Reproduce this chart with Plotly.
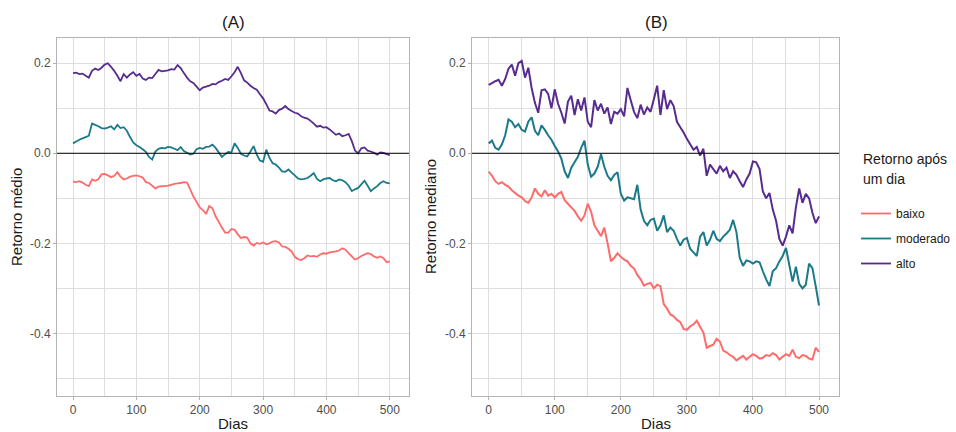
import plotly.graph_objects as go

# eixo comum: dias de 5 em 5
dias = list(range(0, 505, 5))

# ---- Painel (A): retorno médio ----
a_alto = [0.178, 0.179, 0.176, 0.177, 0.172, 0.168, 0.183, 0.188, 0.185, 0.190,
          0.197, 0.200, 0.192, 0.183, 0.172, 0.160, 0.176, 0.168, 0.175, 0.180,
          0.172, 0.176, 0.166, 0.163, 0.168, 0.167, 0.176, 0.185, 0.182, 0.183,
          0.184, 0.187, 0.186, 0.196, 0.189, 0.178, 0.168, 0.160, 0.156, 0.148,
          0.140, 0.146, 0.148, 0.150, 0.154, 0.153, 0.158, 0.161, 0.165, 0.163,
          0.171, 0.180, 0.192, 0.178, 0.162, 0.157, 0.150, 0.145, 0.141, 0.131,
          0.122, 0.109, 0.095, 0.093, 0.088, 0.096, 0.099, 0.105, 0.098, 0.094,
          0.090, 0.088, 0.082, 0.079, 0.077, 0.072, 0.066, 0.059, 0.061, 0.057,
          0.058, 0.053, 0.047, 0.041, 0.044, 0.038, 0.040, 0.043, 0.027, 0.006,
          0.000, 0.011, 0.013, 0.006, 0.004, 0.001, -0.003, 0.002, 0.001, -0.002,
          -0.004]

a_moderado = [0.022, 0.026, 0.030, 0.033, 0.036, 0.039, 0.066, 0.063, 0.060, 0.056,
              0.055, 0.057, 0.060, 0.053, 0.063, 0.056, 0.058, 0.050, 0.036, 0.024,
              0.018, 0.014, 0.009, 0.003, -0.008, -0.014, 0.004, 0.010, 0.012, 0.011,
              0.014, 0.013, 0.010, 0.007, 0.014, 0.005, 0.001, -0.003, -0.001, 0.009,
              0.012, 0.010, 0.014, 0.015, 0.019, 0.012, 0.002, -0.008, -0.002, 0.003,
              0.002, 0.022, 0.012, -0.001, -0.005, -0.007, 0.004, 0.016, -0.003, -0.016,
              -0.019, 0.008, -0.010, -0.022, -0.025, -0.032, -0.040, -0.041, -0.036, -0.043,
              -0.049, -0.056, -0.058, -0.057, -0.055, -0.050, -0.044, -0.057, -0.062, -0.058,
              -0.056, -0.055, -0.060, -0.062, -0.058, -0.060, -0.064, -0.072, -0.084, -0.080,
              -0.077, -0.069, -0.061, -0.072, -0.084, -0.078, -0.073, -0.066, -0.062, -0.066,
              -0.067]

a_baixo = [-0.063, -0.064, -0.062, -0.065, -0.070, -0.073, -0.058, -0.061, -0.058, -0.047,
           -0.046, -0.049, -0.053, -0.050, -0.042, -0.052, -0.058, -0.056, -0.052, -0.050,
           -0.049, -0.051, -0.054, -0.064, -0.066, -0.072, -0.078, -0.074, -0.073, -0.073,
           -0.072, -0.070, -0.068, -0.067, -0.066, -0.064, -0.065, -0.080, -0.096, -0.108,
           -0.120, -0.126, -0.135, -0.117, -0.122, -0.140, -0.152, -0.165, -0.176, -0.176,
           -0.168, -0.170, -0.180, -0.188, -0.186, -0.187, -0.200, -0.205, -0.199, -0.201,
           -0.198, -0.202, -0.200, -0.196, -0.195, -0.198, -0.207, -0.208, -0.212, -0.218,
           -0.230, -0.235, -0.237, -0.233, -0.227, -0.229, -0.228, -0.230, -0.225, -0.222,
           -0.223, -0.220, -0.219, -0.218, -0.216, -0.211, -0.214, -0.222, -0.229, -0.236,
           -0.233, -0.228, -0.225, -0.222, -0.224, -0.229, -0.232, -0.229, -0.233, -0.242,
           -0.240]

# ---- Painel (B): retorno mediano ----
b_alto = [0.152, 0.156, 0.160, 0.163, 0.150, 0.165, 0.188, 0.197, 0.172, 0.200,
          0.205, 0.168, 0.190, 0.145, 0.112, 0.090, 0.140, 0.142, 0.132, 0.100,
          0.142, 0.110, 0.090, 0.066, 0.115, 0.128, 0.085, 0.120, 0.095, 0.124,
          0.070, 0.058, 0.118, 0.095, 0.110, 0.088, 0.102, 0.065, 0.092, 0.088,
          0.098, 0.082, 0.145, 0.118, 0.092, 0.078, 0.108, 0.086, 0.102, 0.092,
          0.120, 0.150, 0.085, 0.140, 0.098, 0.118, 0.105, 0.070, 0.058, 0.046,
          0.032, 0.020, 0.008, 0.014, -0.005, 0.010, -0.050, -0.025, -0.035, -0.045,
          -0.028, -0.040, -0.032, -0.055, -0.040, -0.048, -0.062, -0.075, -0.058, -0.045,
          -0.018, -0.020, -0.035, -0.085, -0.100, -0.088, -0.125, -0.150, -0.190, -0.205,
          -0.185, -0.160, -0.178, -0.120, -0.078, -0.110, -0.090, -0.100, -0.132, -0.155,
          -0.140]

b_moderado = [0.022, 0.028, 0.012, 0.008, 0.020, 0.040, 0.075, 0.070, 0.058, 0.065,
              0.052, 0.048, 0.070, 0.080, 0.050, 0.040, 0.062, 0.052, 0.040, 0.030,
              0.016, 0.004, -0.012, -0.040, -0.055, -0.032, -0.020, -0.008, 0.012, 0.028,
              -0.025, -0.052, -0.045, -0.030, -0.002, -0.030, -0.050, -0.060, -0.048, -0.042,
              -0.090, -0.105, -0.098, -0.100, -0.102, -0.070, -0.125, -0.150, -0.160, -0.148,
              -0.145, -0.172, -0.160, -0.138, -0.175, -0.165, -0.172, -0.190, -0.205, -0.192,
              -0.188, -0.212, -0.220, -0.228, -0.185, -0.175, -0.205, -0.192, -0.172, -0.190,
              -0.195, -0.185, -0.178, -0.170, -0.148, -0.175, -0.232, -0.250, -0.238, -0.240,
              -0.245, -0.240, -0.242, -0.262, -0.280, -0.295, -0.262, -0.255, -0.240, -0.228,
              -0.210, -0.248, -0.285, -0.252, -0.290, -0.300, -0.292, -0.245, -0.255, -0.295,
              -0.338]

b_baixo = [-0.041, -0.050, -0.062, -0.068, -0.064, -0.070, -0.074, -0.082, -0.088, -0.094,
           -0.098, -0.106, -0.110, -0.098, -0.078, -0.090, -0.096, -0.082, -0.094, -0.090,
           -0.098, -0.090, -0.086, -0.104, -0.112, -0.120, -0.128, -0.140, -0.150, -0.138,
           -0.112, -0.130, -0.160, -0.172, -0.184, -0.165, -0.200, -0.240, -0.232, -0.222,
           -0.230, -0.236, -0.240, -0.250, -0.256, -0.270, -0.280, -0.294, -0.290, -0.288,
           -0.300, -0.292, -0.295, -0.335, -0.345, -0.358, -0.362, -0.370, -0.375, -0.390,
           -0.392, -0.384, -0.380, -0.372, -0.385, -0.398, -0.432, -0.428, -0.425, -0.412,
           -0.418, -0.438, -0.442, -0.448, -0.452, -0.460, -0.455, -0.450, -0.458, -0.452,
           -0.446, -0.450, -0.456, -0.454, -0.448, -0.450, -0.444, -0.448, -0.458, -0.452,
           -0.446, -0.450, -0.436, -0.452, -0.455, -0.448, -0.450, -0.456, -0.458, -0.432,
           -0.441]

grupos = ["baixo", "moderado", "alto"]
cores = {"baixo": "#FF6B6B", "moderado": "#1A7A89", "alto": "#582C8E"}

painel_a = {"baixo": a_baixo, "moderado": a_moderado, "alto": a_alto}
painel_b = {"baixo": b_baixo, "moderado": b_moderado, "alto": b_alto}

W, H = 956, 432


def px(x):
    return x / W


def py(y):
    return 1 - y / H


fig = go.Figure()

for g in grupos:
    fig.add_trace(go.Scatter(x=dias, y=painel_a[g], mode="lines", name=g, legendgroup=g,
                             line=dict(color=cores[g], width=1.8, simplify=False),
                             xaxis="x", yaxis="y", showlegend=True))
for g in grupos:
    fig.add_trace(go.Scatter(x=dias, y=painel_b[g], mode="lines", name=g, legendgroup=g,
                             line=dict(color=cores[g], width=2.0, simplify=False),
                             xaxis="x2", yaxis="y2", showlegend=False))

grid = "#DEDEDE"
borda = "#B3B3B3"
fonte = "Liberation Sans, Arial, sans-serif"

eixo_x = dict(range=[-25.25, 530.25], tickvals=[0, 100, 200, 300, 400, 500],
              showgrid=True, gridcolor=grid, gridwidth=1,
              minor=dict(tickvals=[50, 150, 250, 350, 450], showgrid=True, gridcolor=grid,
                         gridwidth=0.6, ticks=""),
              showline=True, mirror=True, linecolor=borda, linewidth=1,
              ticks="outside", ticklen=3, tickcolor=borda, tickwidth=1,
              tickfont=dict(family=fonte, size=12, color="#4D4D4D"),
              zeroline=False, automargin=False, fixedrange=True)
eixo_y = dict(range=[-0.539, 0.256], tickvals=[-0.4, -0.2, 0.0, 0.2],
              ticktext=["-0.4", "-0.2", "0.0", "0.2"],
              showgrid=True, gridcolor=grid, gridwidth=1,
              minor=dict(tickvals=[-0.5, -0.3, -0.1, 0.1], showgrid=True, gridcolor=grid,
                         gridwidth=0.6, ticks=""),
              showline=True, mirror=True, linecolor=borda, linewidth=1,
              ticks="outside", ticklen=3, tickcolor=borda, tickwidth=1,
              tickfont=dict(family=fonte, size=12, color="#4D4D4D"),
              zeroline=False, automargin=False, fixedrange=True)

fig.update_layout(
    width=W, height=H,
    margin=dict(l=0, r=0, t=0, b=0),
    paper_bgcolor="white", plot_bgcolor="white",
    xaxis=dict(eixo_x, domain=[px(57), px(409)], anchor="y"),
    yaxis=dict(eixo_y, domain=[py(396), py(38)], anchor="x"),
    xaxis2=dict(eixo_x, domain=[px(472), px(839)], anchor="y2"),
    yaxis2=dict(eixo_y, domain=[py(396), py(38)], anchor="x2"),
    showlegend=True,
    legend=dict(x=px(856), y=py(199), xanchor="left", yanchor="top",
                font=dict(family=fonte, size=12, color="#1A1A1A"),
                tracegroupgap=6, itemwidth=30, bgcolor="rgba(0,0,0,0)"),
    font=dict(family=fonte),
)

# linha de referência em zero nos dois painéis
for xr, yr in (("x domain", "y"), ("x2 domain", "y2")):
    fig.add_shape(type="line", xref=xr, yref=yr, x0=0, x1=1, y0=0, y1=0,
                  line=dict(color="black", width=1), layer="above")

textos = [
    ("(A)", 233, 22, 0, 17, "center"),
    ("(B)", 656, 22, 0, 17, "center"),
    ("Dias", 233, 423, 0, 15, "center"),
    ("Dias", 656, 423, 0, 15, "center"),
    ("Retorno médio", 17, 217, -90, 15, "center"),
    ("Retorno mediano", 431, 217, -90, 15, "center"),
    ("Retorno após", 861, 159, 0, 14, "left"),
    ("um dia", 861, 179, 0, 14, "left"),
]
for txt, x, y, ang, tam, anc in textos:
    fig.add_annotation(text=txt, x=px(x), y=py(y), xref="paper", yref="paper",
                       showarrow=False, textangle=ang, xanchor=anc, yanchor="middle",
                       font=dict(family=fonte, size=tam, color="#1A1A1A"))

fig.write_html("out.html")
